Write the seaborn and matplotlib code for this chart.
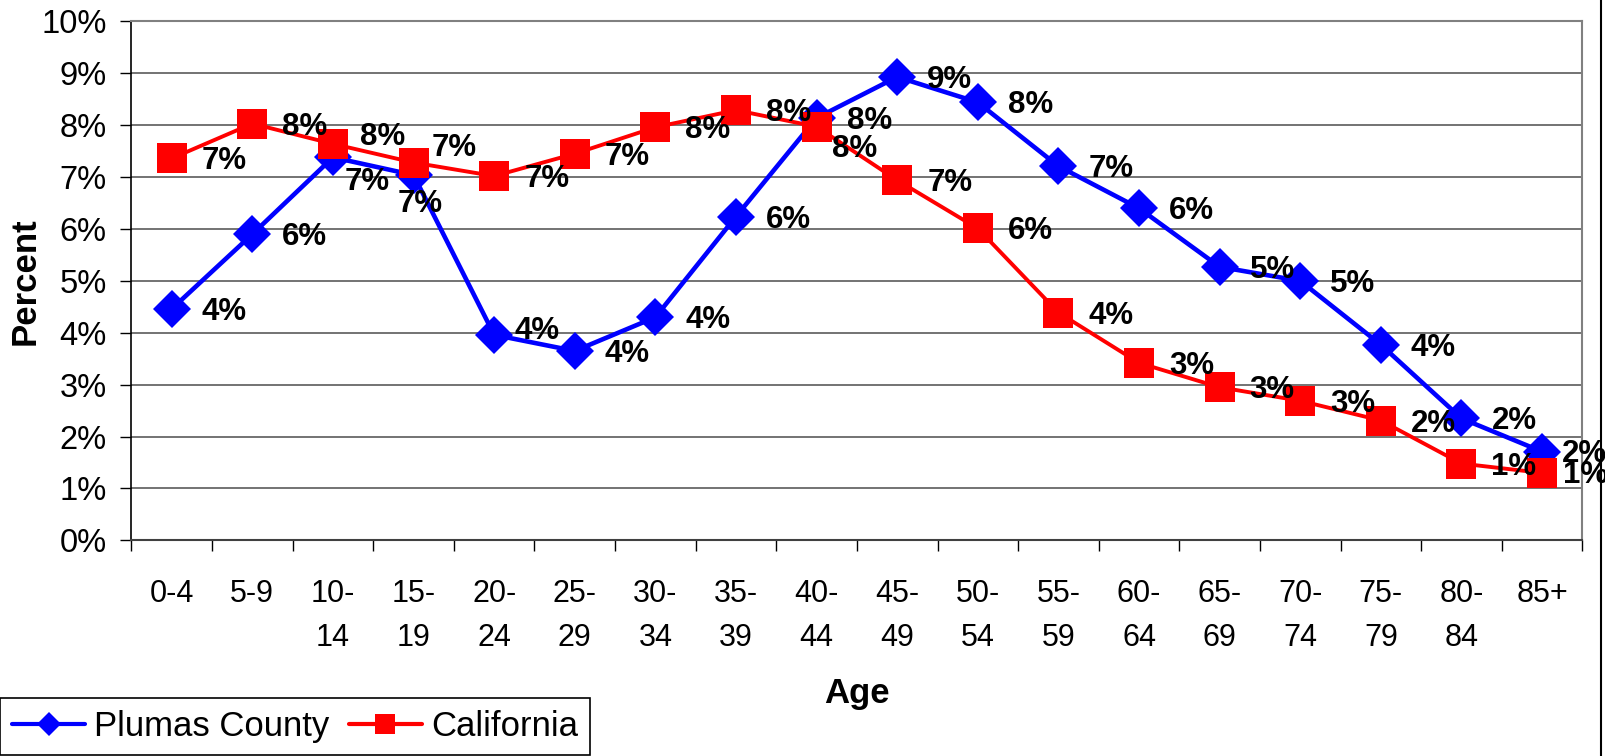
import numpy as np
import pandas as pd
import seaborn as sns
import matplotlib.pyplot as plt
from matplotlib.lines import Line2D
from matplotlib.ticker import FuncFormatter, MultipleLocator

age_groups = ["0-4", "5-9", "10-\n14", "15-\n19", "20-\n24", "25-\n29", "30-\n34", "35-\n39",
              "40-\n44", "45-\n49", "50-\n54", "55-\n59", "60-\n64", "65-\n69", "70-\n74",
              "75-\n79", "80-\n84", "85+"]
plumas = [4.46, 5.90, 7.38, 7.04, 3.96, 3.65, 4.30, 6.24, 8.14, 8.93, 8.44, 7.21,
          6.40, 5.27, 5.00, 3.77, 2.35, 1.71]
california = [7.36, 8.03, 7.64, 7.28, 7.02, 7.45, 7.96, 8.29, 7.97, 6.94, 6.01, 4.39,
              3.42, 2.95, 2.69, 2.31, 1.48, 1.30]

sns.set_style("white", {"text.color": "black", "axes.labelcolor": "black",
                        "xtick.color": "black", "ytick.color": "black"})
plt.rcParams['font.family'] = ['Liberation Sans', 'DejaVu Sans']

pos = np.arange(len(age_groups))
df_pl = pd.DataFrame({"pos": pos, "pct": plumas})
df_ca = pd.DataFrame({"pos": pos, "pct": california})

fig = plt.figure(figsize=(16.05, 7.56), dpi=100)
ax = fig.add_axes([0.08187, 0.28519, 0.90405, 0.68651])

blue = "#0000FF"
red = "#FF0000"

sns.lineplot(data=df_pl, x="pos", y="pct", ax=ax, color=blue, lw=3.3, marker="D",
             markersize=19, markeredgecolor=blue, markeredgewidth=0, errorbar=None, zorder=3)
sns.lineplot(data=df_ca, x="pos", y="pct", ax=ax, color=red, lw=2.8, marker="s",
             markersize=22, markeredgecolor=red, markeredgewidth=0, errorbar=None, zorder=4)

# data labels, px offsets from the point (right of the point by default)
def fmt(v):
    return f"{int(np.floor(v + 0.5))}%"

pl_off = {2: (12, 25), 3: (-16, 29), 4: (20, -4), 17: (20, 2)}
ca_off = {2: (27, -7), 3: (18, -15), 8: (15, 22), 17: (21, 2)}
for vals, offs in ((plumas, pl_off), (california, ca_off)):
    for i, v in enumerate(vals):
        dx, dy = offs.get(i, (30, 3))
        ax.annotate(fmt(v), (pos[i], v), xytext=(dx * 0.72, -dy * 0.72),
                    textcoords="offset points", ha="left", va="center",
                    fontsize=22.5, fontweight="bold", color="black",
                    annotation_clip=False, zorder=6)

ax.set_xlim(-0.5, len(age_groups) - 0.5)
ax.set_ylim(0, 10)
ax.yaxis.set_major_locator(MultipleLocator(1))
ax.yaxis.set_major_formatter(FuncFormatter(lambda v, p: f"{int(round(v))}%"))
ax.grid(axis="y", color="#4d4d4d", lw=1.1)
ax.grid(axis="x", visible=False)
ax.set_axisbelow(True)

ax.set_xticks(pos)
ax.set_xticklabels(age_groups, linespacing=1.6)
ax.set_xticks(np.arange(-0.5, len(age_groups)), minor=True)
ax.tick_params(axis="x", which="major", length=0, pad=28, labelsize=22, labelcolor="black")
ax.tick_params(axis="x", which="minor", length=8, width=1, color="black", direction="out")
ax.tick_params(axis="y", which="major", length=8, width=1, color="black",
               direction="out", pad=10, labelsize=23.5, labelcolor="black")
ax.tick_params(left=True, bottom=True, which="both")

for side in ("top", "right"):
    ax.spines[side].set_color("#808080")
    ax.spines[side].set_linewidth(1.5)
ax.spines["left"].set_color("black")
ax.spines["bottom"].set_color("#404040")
ax.spines["left"].set_linewidth(1.2)
ax.spines["bottom"].set_linewidth(1.5)

ax.set_ylabel("Percent", fontsize=25, fontweight="bold", va="center", color="black")
ax.yaxis.set_label_coords(-0.0730, 0.5)
ax.set_xlabel("Age", fontsize=25, fontweight="bold", va="baseline", color="black")
ax.xaxis.set_label_coords(0.5, -0.3127)

handles = [
    Line2D([], [], color=blue, lw=3, marker="D", markersize=12, markeredgewidth=0),
    Line2D([], [], color=red, lw=3, marker="s", markersize=15, markeredgewidth=0),
]
leg = fig.legend(handles, ["Plumas County", "California"], loc="upper left",
                 bbox_to_anchor=(0.0, 1 - 698 / 756), bbox_transform=fig.transFigure,
                 ncol=2, fontsize=25, frameon=True, fancybox=False, shadow=False,
                 framealpha=1, edgecolor="black", borderaxespad=0, borderpad=0.35,
                 handlelength=2.1, handletextpad=0.27, columnspacing=0.55)
leg.get_frame().set_linewidth(1.2)
for t in leg.get_texts():
    t.set_color("black")

fig.add_artist(Line2D([1601 / 1605, 1601 / 1605], [0, 1], transform=fig.transFigure,
                      color="black", lw=1.5))

fig.savefig("out.png", dpi=100, facecolor="white")
